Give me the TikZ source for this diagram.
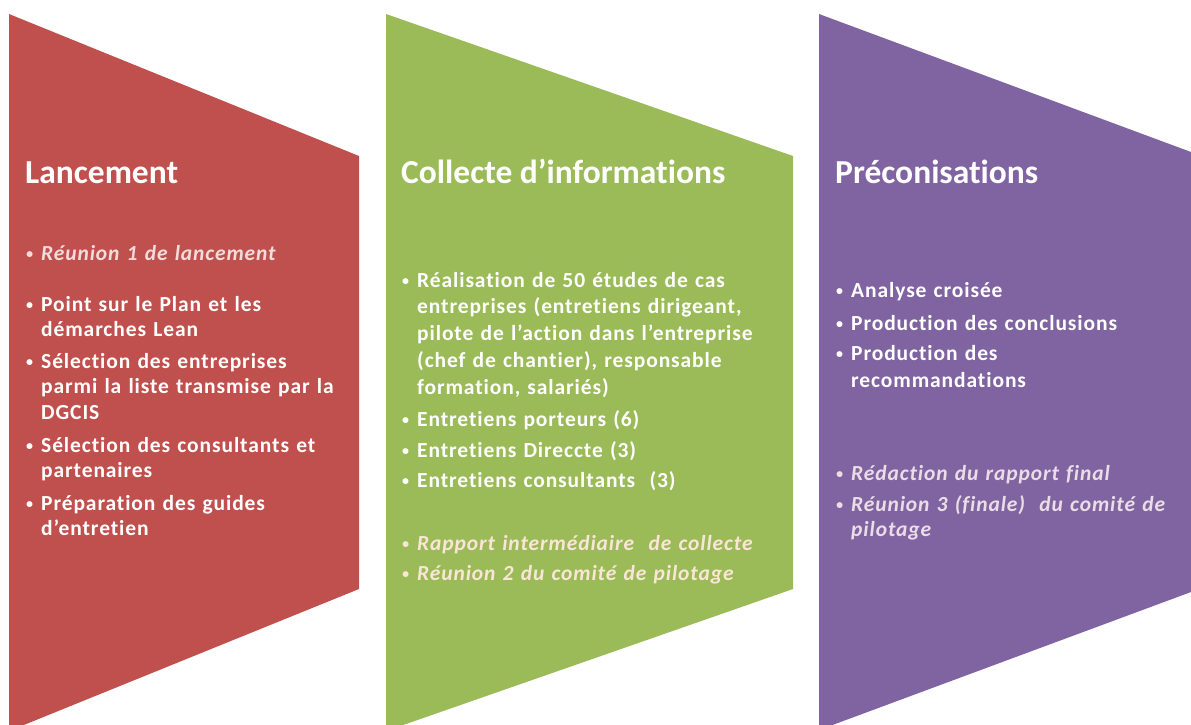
\documentclass[tikz,border=0pt]{standalone}
\usepackage{fontspec}
\setmainfont[Ligatures=NoCommon]{Carlito}
\newfontfamily\taskfont[LetterSpace=4.2, Ligatures=NoCommon]{Carlito}
\definecolor{phaseRed}{HTML}{C0504D}
\definecolor{phaseGreen}{HTML}{9BBB59}
\definecolor{phasePurple}{HTML}{8064A2}
\definecolor{noteRed}{HTML}{F2DCDB}
\definecolor{noteGreen}{HTML}{FBE5D6}
\definecolor{notePurple}{HTML}{EBDCE6}
\newcommand\itembullet{\llap{\raisebox{1.8pt}{\fontsize{14}{14}\selectfont •}\hspace{8pt}}}
\tikzset{
  phasetitle/.style={anchor=base west, inner sep=0pt, text=white,
    font=\bfseries\fontsize{33.5}{38}\selectfont},
  task/.style={anchor=base west, inner sep=0pt, text width=380pt, align=left,
    text=white, font=\taskfont\bfseries\fontsize{21.5}{25.8}\selectfont},
  milestone/.style={task, font=\taskfont\bfseries\itshape\fontsize{21.5}{25.8}\selectfont},
}
\begin{document}
\begin{tikzpicture}[x=1pt, y=-1pt]
  \useasboundingbox (0,0) rectangle (1191,724);
  \clip (0,0) rectangle (1191,724);
  % the three phase chevrons
  \fill[phaseRed]    (9,14)   -- (359,156)  -- (359,589)  -- (9,731)   -- cycle;
  \fill[phaseGreen]  (386,14) -- (793,156)  -- (793,589)  -- (386,731) -- cycle;
  \fill[phasePurple] (819,14) -- (1191,152) -- (1191,592) -- (819,730) -- cycle;

  % phase 1
  \node[phasetitle] (t1) at (25,183) {Lancement};
  \node[milestone, text=noteRed] (r1) at (41,260) {\itembullet Réunion 1 de lancement};
  \node[task] (a1) at (41,311) {\itembullet Point sur le Plan et les\\démarches Lean};
  \node[task] (a2) at (41,368) {\itembullet Sélection des entreprises\\parmi la liste transmise par la\\DGCIS};
  \node[task] (a3) at (41,452) {\itembullet Sélection des consultants et\\partenaires};
  \node[task] (a4) at (41,510) {\itembullet Préparation des guides\\d’entretien};

  % phase 2
  \node[phasetitle] (t2) at (401,183) {Collecte d’informations};
  \node[task, font=\taskfont\bfseries\fontsize{21.5}{26.8}\selectfont] (b1) at (417,287)
    {\itembullet Réalisation de 50 études de cas\\entreprises (entretiens dirigeant,\\pilote de l’action dans l’entreprise\\(chef de chantier), responsable\\formation, salariés)};
  \node[task] (b2) at (417,426) {\itembullet Entretiens porteurs (6)};
  \node[task] (b3) at (417,457) {\itembullet Entretiens Direccte (3)};
  \node[task] (b4) at (417,487) {\itembullet Entretiens consultants\ \ (3)};
  \node[milestone, text=noteGreen] (r2a) at (417,550) {\itembullet Rapport intermédiaire\ \ de collecte};
  \node[milestone, text=noteGreen] (r2b) at (417,580) {\itembullet Réunion 2 du comité de pilotage};

  % phase 3
  \node[phasetitle] (t3) at (835,183) {Préconisations};
  \node[task] (c1) at (851,297) {\itembullet Analyse croisée};
  \node[task] (c2) at (851,330) {\itembullet Production des conclusions};
  \node[task, font=\taskfont\bfseries\fontsize{21.5}{27.5}\selectfont] (c3) at (851,360) {\itembullet Production des\\recommandations};
  \node[milestone, text=notePurple] (r3a) at (851,480) {\itembullet Rédaction du rapport final};
  \node[milestone, text=notePurple] (r3b) at (851,511) {\itembullet Réunion 3 (finale)\ \ du comité de\\pilotage};
\end{tikzpicture}
\end{document}
